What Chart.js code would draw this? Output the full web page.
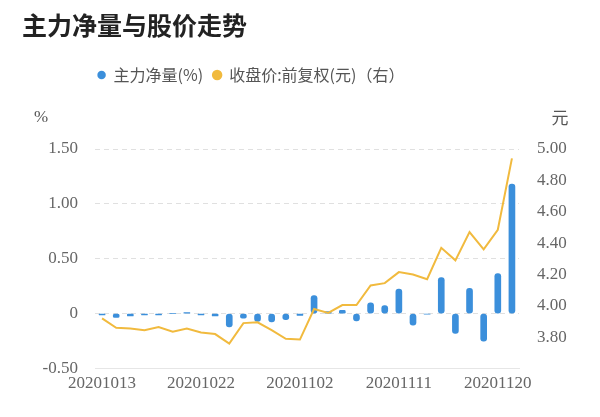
<!DOCTYPE html>
<html>
<head>
<meta charset="utf-8">
<script src="https://cdn.jsdelivr.net/npm/chart.js@4.4.0/dist/chart.umd.min.js"></script>
<style>
    html, body { margin: 0; padding: 0; background: #fff; }
</style>
</head>
<body>
<canvas id="chart" width="600" height="417"></canvas>
<script>
// trading days, 2020-10-13 .. 2020-11-23
const dates = [
    '20201013', '20201014', '20201015', '20201016', '20201019', '20201020', '20201021', '20201022',
    '20201023', '20201026', '20201027', '20201028', '20201029', '20201030', '20201102', '20201103',
    '20201104', '20201105', '20201106', '20201109', '20201110', '20201111', '20201112', '20201113',
    '20201116', '20201117', '20201118', '20201119', '20201120', '20201123',
];

// 主力净量 (%)
const netFlow = [
    -0.01, -0.035, -0.02, -0.01, -0.01, 0, 0.01, -0.01,
    -0.02, -0.12, -0.04, -0.07, -0.075, -0.055, -0.015, 0.165,
    0.02, 0.03, -0.065, 0.10, 0.075, 0.225, -0.105, -0.005,
    0.33, -0.18, 0.23, -0.25, 0.365, 1.18,
];

// 收盘价:前复权 (元)
const closePrice = [
    3.92, 3.86, 3.855, 3.845, 3.865, 3.835, 3.855, 3.83,
    3.82, 3.76, 3.89, 3.895, 3.845, 3.79, 3.785, 3.98,
    3.955, 4.005, 4.005, 4.13, 4.145, 4.215, 4.20, 4.17,
    4.37, 4.29, 4.47, 4.36, 4.485, 4.94,
];

const leftAxis = { min: -0.5, max: 1.5, step: 0.5 };
const rightAxis = { min: 3.6, max: 5.0, step: 0.2 };

const labelEvery = 7;
const tickFont = { family: "'Liberation Serif', serif", size: 17 };
const cjkFont = "'Noto Sans CJK SC', sans-serif";
const textColor = '#666';

// extra room between legend and plot, legend nudged left of centre
const legendSpacer = {
    id: 'legendSpacer',
    beforeInit(chart) {
        const fit = chart.legend.fit;
        chart.legend.fit = function () {
            fit.bind(chart.legend)();
            this.height += 56;
        };
    },
    afterLayout(chart) {
        chart.legend.left -= 55;
        chart.legend.right -= 55;
    },
};

// "%" and "元" above the two value axes
const unitLabels = {
    id: 'unitLabels',
    afterDraw(chart) {
        const { ctx, chartArea, scales } = chart;
        ctx.save();
        ctx.fillStyle = '#555';
        ctx.textAlign = 'center';
        ctx.textBaseline = 'middle';
        ctx.font = "17px 'Liberation Serif', serif";
        ctx.fillText('%', scales.y.left + 19, chartArea.top - 31);
        ctx.font = "17px " + cjkFont;
        ctx.fillText('元', scales.y1.left + 41, chartArea.top - 31);
        ctx.restore();
    },
};

new Chart(document.getElementById('chart').getContext('2d'), {
    type: 'bar',
    data: {
        labels: dates,
        datasets: [
            {
                type: 'bar',
                label: '主力净量(%)',
                data: netFlow,
                yAxisID: 'y',
                backgroundColor: '#3b8fdb',
                borderRadius: 3,
                borderSkipped: false,
                barThickness: 6,
                order: 1,
            },
            {
                type: 'line',
                label: '收盘价:前复权(元)（右）',
                data: closePrice,
                yAxisID: 'y1',
                borderColor: '#f1ba3e',
                backgroundColor: '#f1ba3e',
                borderWidth: 2,
                pointRadius: 0,
                tension: 0,
                order: 0,
            },
        ],
    },
    options: {
        responsive: false,
        animation: false,
        layout: { padding: { left: 22, right: 10, top: 10, bottom: 18 } },
        plugins: {
            title: {
                display: true,
                text: '主力净量与股价走势',
                align: 'start',
                color: '#222',
                font: { family: cjkFont, size: 25, weight: 'bold' },
                padding: { top: 0, bottom: 17 },
            },
            legend: {
                display: true,
                position: 'top',
                labels: {
                    color: '#555',
                    font: { family: cjkFont, size: 16 },
                    usePointStyle: true,
                    pointStyle: 'circle',
                    boxWidth: 8,
                    boxHeight: 6,
                    padding: 10,
                    sort: (a, b) => a.datasetIndex - b.datasetIndex,
                },
            },
            tooltip: { enabled: false },
        },
        scales: {
            x: {
                offset: true,
                grid: { display: false, drawTicks: false },
                border: { display: true, color: '#e6e6e6', width: 1 },
                ticks: {
                    autoSkip: false,
                    maxRotation: 0,
                    padding: 5,
                    color: textColor,
                    font: tickFont,
                    callback: (v, i) => (i % labelEvery === 0 ? dates[i] : ''),
                },
            },
            y: {
                position: 'left',
                min: leftAxis.min,
                max: leftAxis.max,
                afterFit: (scale) => { scale.width = 73; },
                ticks: {
                    stepSize: leftAxis.step,
                    padding: 17,
                    color: textColor,
                    font: tickFont,
                    callback: (v) => (v === 0 ? '0' : v.toFixed(2)),
                },
                grid: {
                    drawTicks: false,
                    color: (ctx) => (ctx.tick && ctx.tick.value === leftAxis.min ? 'rgba(0,0,0,0)' : '#e0e0e0'),
                    lineWidth: 1,
                },
                border: { display: false, dash: [5, 4] },
            },
            y1: {
                position: 'right',
                min: rightAxis.min,
                max: rightAxis.max,
                afterFit: (scale) => { scale.width = 71; },
                ticks: {
                    stepSize: rightAxis.step,
                    padding: 18,
                    color: textColor,
                    font: tickFont,
                    callback: (v) => (Math.abs(v - rightAxis.min) < 1e-6 ? '' : v.toFixed(2)),
                },
                grid: { display: false, drawTicks: false },
                border: { display: false },
            },
        },
    },
    plugins: [legendSpacer, unitLabels],
});
</script>
</body>
</html>
